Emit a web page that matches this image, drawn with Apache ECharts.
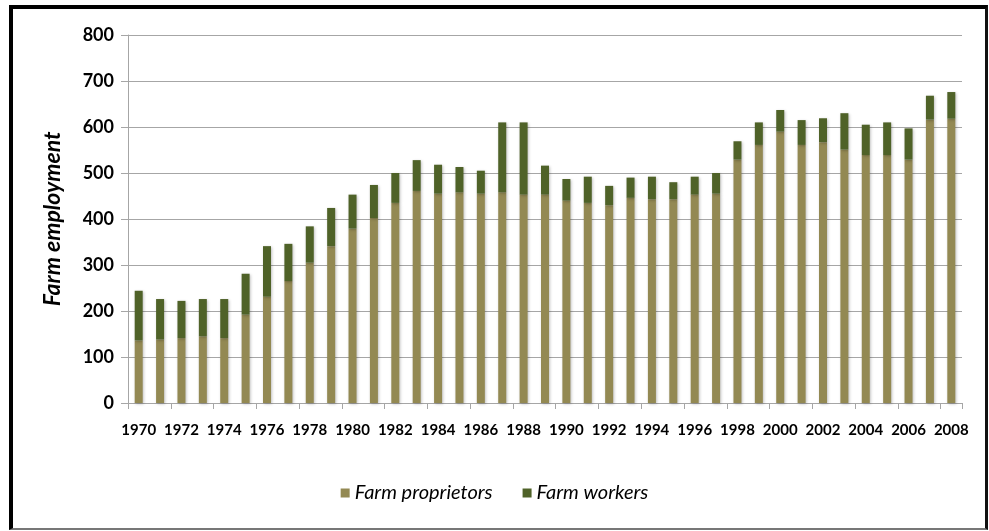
<!DOCTYPE html>
<html>
<head>
<meta charset="utf-8">
<script src="https://cdn.jsdelivr.net/npm/echarts@6/dist/echarts.min.js"></script>
<style>
	body { margin: 0; background: #fff; }
	#wrap { position: relative; width: 989px; height: 531px; }
	#chart { width: 989px; height: 531px; }
	#frame {
		position: absolute; left: 9px; top: 5px; width: 972px; height: 519px;
		border-top: 4px solid #000; border-left: 4px solid #000;
		border-right: 3px solid #111; border-bottom: 2px solid #777;
		pointer-events: none;
	}
</style>
</head>
<body>
<div id="wrap">
	<div id="chart"></div>
	<div id="frame"></div>
</div>
<script>
	// years on the x axis
	var years = [];
	for (var y = 1970; y <= 2008; y++) { years.push(String(y)); }

	// bottom segment (tan)
	var proprietors = [136, 138, 141, 145, 141, 192, 231, 265, 305, 341,
		379, 402, 435, 461, 455, 458, 455, 458, 453, 453,
		440, 435, 430, 446, 443, 443, 453, 455, 529, 561,
		590, 561, 567, 551, 539, 539, 529, 616, 618];
	// totals
	var totals = [244, 226, 222, 226, 226, 281, 341, 346, 384, 424,
		453, 474, 500, 528, 518, 513, 505, 610, 610, 516,
		487, 492, 472, 490, 492, 480, 492, 500, 569, 610,
		637, 615, 619, 630, 605, 610, 597, 668, 676];
	// top segment (dark green) = total - proprietors
	var workers = totals.map(function (t, i) { return t - proprietors[i]; });

	var yTicks = { min: 0, max: 800, interval: 100 };

	var myChart = echarts.init(document.getElementById('chart'));
	var labelFont = 'Lato, "Open Sans", sans-serif';

	var option = {
		backgroundColor: '#fff',
		animation: false,
		grid: { left: 128, right: 27, top: 35, bottom: 128 },
		legend: {
			bottom: 23,
			left: 'center',
			itemWidth: 9,
			itemHeight: 9,
			itemGap: 30,
			icon: 'rect',
			textStyle: { fontFamily: labelFont, fontStyle: 'italic', fontSize: 20, color: '#000' },
			data: ['Farm proprietors', 'Farm workers']
		},
		xAxis: {
			type: 'category',
			data: years,
			axisLine: { lineStyle: { color: '#a6a6a6', width: 1 } },
			axisTick: { show: true, length: 6, lineStyle: { color: '#a6a6a6' } },
			axisLabel: { interval: 1, margin: 20, fontFamily: labelFont, fontWeight: 'bold', fontSize: 15, color: '#000' }
		},
		yAxis: {
			type: 'value',
			min: yTicks.min, max: yTicks.max, interval: yTicks.interval,
			name: 'Farm employment',
			nameLocation: 'middle',
			nameGap: 64,
			nameTextStyle: { fontFamily: labelFont, fontStyle: 'italic', fontWeight: 'bold', fontSize: 23, color: '#000' },
			axisLine: { show: true, lineStyle: { color: '#a6a6a6' } },
			axisTick: { show: true, length: 7, lineStyle: { color: '#a6a6a6' } },
			axisLabel: { margin: 14, fontFamily: labelFont, fontWeight: 'bold', fontSize: 18, color: '#000' },
			splitLine: { lineStyle: { color: '#a6a6a6', width: 1 } }
		},
		series: [
			{
				name: 'Farm proprietors',
				type: 'bar',
				stack: 'emp',
				barWidth: 8,
				itemStyle: { color: '#938953', shadowColor: 'rgba(0,0,0,0.25)', shadowBlur: 3, shadowOffsetX: 1, shadowOffsetY: 1 },
				data: proprietors
			},
			{
				name: 'Farm workers',
				type: 'bar',
				stack: 'emp',
				barWidth: 8,
				itemStyle: { color: '#4f6228', shadowColor: 'rgba(0,0,0,0.25)', shadowBlur: 3, shadowOffsetX: 1, shadowOffsetY: 1 },
				data: workers
			}
		]
	};
	myChart.setOption(option);
</script>
</body>
</html>
